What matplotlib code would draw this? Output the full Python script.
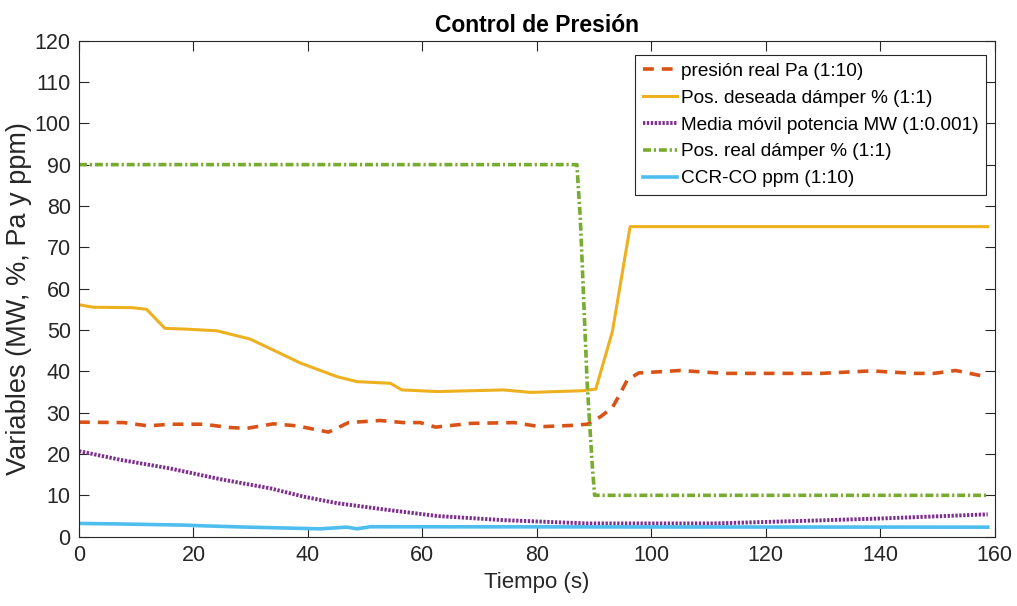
import matplotlib
matplotlib.use('Agg')
import matplotlib.pyplot as plt

plt.rcParams['font.family'] = ['Liberation Sans', 'DejaVu Sans']

# presión real Pa (1:10)
t_pres = [0, 7.8, 12.1, 15.9, 21.7, 26.4, 29.3, 34.0, 38.1, 41.0, 43.6, 47.1, 52.6, 56.7, 59.6,
          62.3, 68.4, 76.0, 80.6, 85.9, 88.8, 91.1, 93.2, 94.6, 95.8, 97.8, 105.1, 112.7,
          122.6, 129.6, 138.4, 145.9, 149.4, 153.2, 158.8]
pres = [27.7, 27.6, 26.8, 27.2, 27.2, 26.4, 26.2, 27.3, 26.8, 26.0, 25.3, 27.6, 28.1, 27.6, 27.6,
        26.5, 27.4, 27.6, 26.6, 26.9, 27.2, 29.0, 31.2, 34.7, 37.9, 39.6, 40.2, 39.5,
        39.5, 39.5, 40.1, 39.5, 39.5, 40.2, 38.6]

# Pos. deseada dámper % (1:1)
t_des = [0, 2.5, 9.2, 11.8, 15.0, 18.8, 24.1, 29.9, 38.7, 45.1, 48.6, 54.4, 56.4, 62.6,
         74.2, 78.9, 87.9, 90.3, 93.2, 96.3, 158.8]
des = [56.1, 55.5, 55.4, 55.0, 50.4, 50.2, 49.8, 47.8, 42.0, 38.7, 37.5, 37.1, 35.5, 35.1,
       35.5, 34.9, 35.3, 35.7, 49.6, 75.0, 75.0]

# Media móvil potencia MW (1:0.001)
t_mw = [0, 7.2, 15.9, 24.7, 33.4, 39.2, 45.1, 53.8, 62.6, 74.2, 88.8, 111.0, 128.4, 140.1, 158.8]
mw = [20.7, 18.6, 16.5, 13.9, 11.7, 9.7, 8.1, 6.5, 5.0, 4.0, 3.2, 3.2, 3.9, 4.4, 5.4]

# Pos. real dámper % (1:1)
t_real = [0, 87.0, 87.6, 88.8, 89.7, 90.1, 158.8]
real = [90, 90, 77, 37, 17, 10, 10]

# CCR-CO ppm (1:10)
t_co = [0, 6.0, 10.1, 18.2, 22.3, 29.6, 42.2, 46.8, 48.6, 50.9, 158.8]
co = [3.2, 3.1, 3.0, 2.8, 2.6, 2.3, 1.9, 2.3, 1.9, 2.4, 2.3]

fig = plt.figure(figsize=(10.17, 6.06), dpi=100)
ax = fig.add_axes([0.0777, 0.1144, 0.9003, 0.8186])

ax.plot(t_pres, pres, color='#D95319', linestyle=(0, (3, 2.2)), linewidth=2.6, label='presión real Pa (1:10)')
ax.plot(t_des, des, color='#EDB120', linestyle='-', linewidth=2.2, label='Pos. deseada dámper % (1:1)')
ax.plot(t_mw, mw, color='#7E2F8E', linestyle=(0, (0.6, 0.4)), linewidth=2.8, label='Media móvil potencia MW (1:0.001)')
ax.plot(t_real, real, color='#77AC30', linestyle=(0, (2.2, 0.8, 0.6, 0.8)), linewidth=2.6, label='Pos. real dámper % (1:1)')
ax.plot(t_co, co, color='#4DBEEE', linestyle='-', linewidth=2.6, label='CCR-CO ppm (1:10)')

ax.set_xlim(0, 160)
ax.set_ylim(0, 120)
ax.set_xticks(range(0, 161, 20))
ax.set_yticks(range(0, 121, 10))
ax.tick_params(direction='in', top=True, right=True, length=7, width=0.8,
               labelsize=15.5, colors='#262626', pad=6)
for s in ax.spines.values():
    s.set_color('#262626')
    s.set_linewidth(0.8)

ax.set_xlabel('Tiempo (s)', fontsize=16, color='#262626', labelpad=4)
ax.set_ylabel('Variables (MW, %, Pa y ppm)', fontsize=19.5, color='#262626')
ax.yaxis.set_label_coords(-0.051, 0.479)
ax.set_title('Control de Presión', fontsize=16.5, fontweight='bold', pad=6)

leg = ax.legend(loc='upper right', bbox_to_anchor=(986 / 1017, 1 - 55 / 606),
                bbox_transform=fig.transFigure, fontsize=13.7, fancybox=False, framealpha=1,
                edgecolor='#262626', handlelength=1.8, handletextpad=0.2,
                labelspacing=0.5, borderpad=0.4, borderaxespad=0)
leg.get_frame().set_linewidth(0.8)

fig.savefig('out.png', dpi=100)
